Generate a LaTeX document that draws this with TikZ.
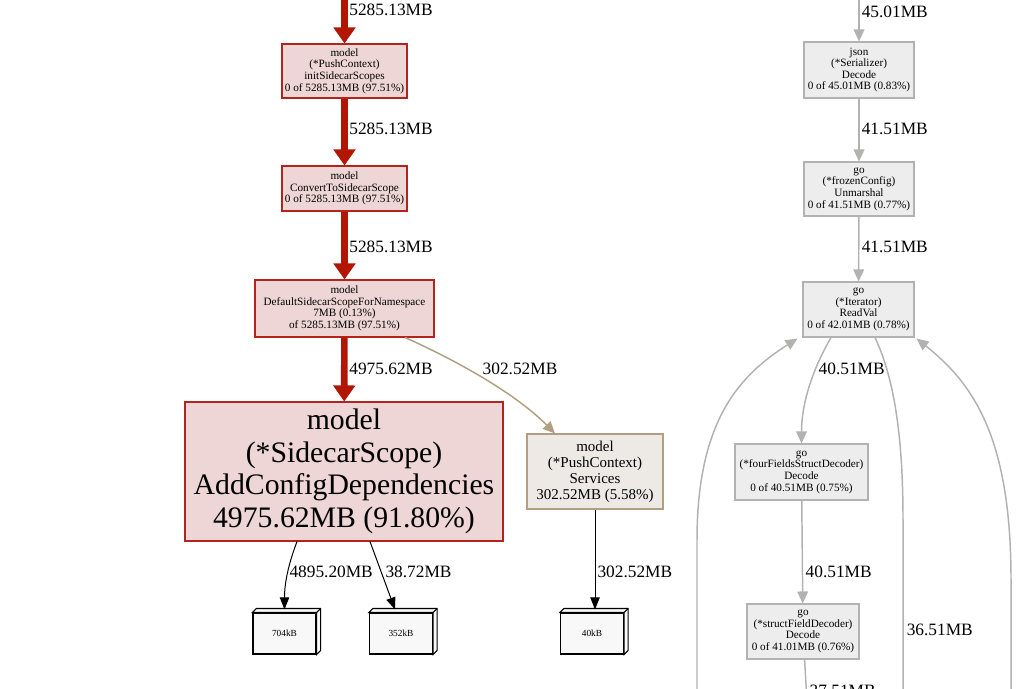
\documentclass[tikz,border=0pt]{standalone}
\usepackage{fontspec}
\setmainfont{Liberation Serif}
\usepackage{xcolor}
\usetikzlibrary{arrows.meta,calc}
\definecolor{hotedge}{RGB}{178,22,0}
\definecolor{hotline}{RGB}{178,36,28}
\definecolor{hotfill}{RGB}{237,214,213}
\definecolor{tanedge}{RGB}{178,160,128}
\definecolor{tanline}{RGB}{178,158,128}
\definecolor{tanfill}{RGB}{237,234,229}
\definecolor{greyedge}{RGB}{178,178,176}
\definecolor{greyline}{RGB}{178,178,178}
\definecolor{greyfill}{RGB}{237,237,237}
\definecolor{leaffill}{RGB}{248,248,248}

\begin{document}
\begin{tikzpicture}[x=0.75pt,y=-0.75pt,
  sz/.style 2 args={minimum width=#1*0.75pt, minimum height=#2*0.75pt},
  fn/.style={draw, line width=0.8pt, align=center, inner sep=1pt, font=\fontsize{8.4}{8.7}\selectfont},
  hotfn/.style={fn, draw=hotline, fill=hotfill},
  tanfn/.style={fn, draw=tanline, fill=tanfill},
  coolfn/.style={fn, draw=greyline, fill=greyfill},
  leaf/.style={draw=black, line width=0.8pt, fill=leaffill, sz={63}{41}, inner sep=0pt, font=\fontsize{7}{8}\selectfont},
  lbl/.style={anchor=west, inner sep=0pt, font=\fontsize{13}{15}\selectfont},
  hot/.style={draw=hotedge, line width=5pt, -{Triangle[length=12pt,width=16pt]}},
  warm/.style={draw=tanedge, line width=1.1pt, -{Triangle[length=9pt,width=8pt]}},
  cool/.style={draw=greyedge, line width=1.1pt, -{Triangle[length=9pt,width=8pt]}},
  leafedge/.style={draw=black, line width=0.75pt, -{Triangle[length=9pt,width=7pt]}},
]
\useasboundingbox[fill=white] (0,0) rectangle (1019,688);

% left chain
\node[hotfn, sz={125}{54}] (init) at (344.5,71) {model\\(*PushContext)\\initSidecarScopes\\0 of 5285.13MB (97.51\%)};
\node[hotfn, sz={125}{45}] (convert) at (344.5,188.5) {model\\ConvertToSidecarScope\\0 of 5285.13MB (97.51\%)};
\node[hotfn, sz={179}{57}] (default) at (344.5,308.5) {model\\DefaultSidecarScopeForNamespace\\7MB (0.13\%)\\of 5285.13MB (97.51\%)};
\node[hotfn, sz={318}{139}, font=\fontsize{22.3}{24.4}\selectfont] (addcfg) at (344,471.5) {model\\(*SidecarScope)\\AddConfigDependencies\\4975.62MB (91.80\%)};
\node[tanfn, sz={136}{75}, font=\fontsize{11.25}{12}\selectfont] (services) at (595,471.5) {model\\(*PushContext)\\Services\\302.52MB (5.58\%)};

% allocation leaves
\node[leaf] (b704) at (284.5,633.5) {704kB};
\node[leaf] (b352) at (401,633.5) {352kB};
\node[leaf] (b40) at (592,633.5) {40kB};
\foreach \n in {b704,b352,b40} {
  \draw[line width=0.8pt, fill=leaffill] (\n.north west) -- ++(4,-4) -- ($(\n.north east)+(4,-4)$) -- ($(\n.south east)+(4,-4)$) -- (\n.south east) -- (\n.north east) -- cycle;
  \draw[line width=0.8pt] (\n.north east) -- ++(4,-4);
}

% right chain
\node[coolfn, sz={110}{56}] (json) at (859,70) {json\\(*Serializer)\\Decode\\0 of 45.01MB (0.83\%)};
\node[coolfn, sz={110}{54}] (frozen) at (859,189) {go\\(*frozenConfig)\\Unmarshal\\0 of 41.51MB (0.77\%)};
\node[coolfn, sz={111}{55}] (iter) at (858.5,309.5) {go\\(*Iterator)\\ReadVal\\0 of 42.01MB (0.78\%)};
\node[coolfn, sz={133}{56}] (four) at (801.5,472) {go\\(*fourFieldsStructDecoder)\\Decode\\0 of 40.51MB (0.75\%)};
\node[coolfn, sz={112}{55}] (field) at (803,631.5) {go\\(*structFieldDecoder)\\Decode\\0 of 41.01MB (0.76\%)};

% free ends off the page
\coordinate (inL) at (344.5,-20);
\coordinate (inR) at (859,-20);
\coordinate (outField) at (808,720);
\coordinate (outIter) at (903,720);
\coordinate (loopL) at (697,720);
\coordinate (loopR) at (1011,720);

% hot path
\draw[hot] (inL) -- (init) node[lbl] at (346,10) {5285.13MB};
\draw[hot] (init) -- (convert) node[lbl] at (346,129) {5285.13MB};
\draw[hot] (convert) -- (default) node[lbl] at (346,247) {5285.13MB};
\draw[hot] (default) -- (addcfg) node[lbl] at (346,369) {4975.62MB};
\draw[warm] ($(default.south)+(60.5,0)$) .. controls (440,353) and (510,388) .. ($(services.north)+(-40,0)$) node[lbl] at (482,369) {302.52MB};
\draw[leafedge] ($(addcfg.south)+(-47,0)$) .. controls (290,560) and (284.5,580) .. ($(b704.north)+(0,-3)$) node[lbl] at (289,572) {4895.20MB};
\draw[leafedge] ($(addcfg.south)+(26,0)$) -- ($(b352.north)+(-6,-3)$) node[lbl] at (385,572) {38.72MB};
\draw[leafedge] (services) -- ($(b40.north)+(3,-3)$) node[lbl] at (597,572) {302.52MB};

% json path
\draw[cool] (inR) -- (json) node[lbl] at (861,12) {45.01MB};
\draw[cool] (json) -- (frozen) node[lbl] at (861,129) {41.51MB};
\draw[cool] (frozen) -- (iter) node[lbl] at (861,247) {41.51MB};
\draw[cool] ($(iter.south)+(-27.5,0)$) .. controls (815,365) and (801.5,400) .. (four.north) node[lbl] at (818,369) {40.51MB};
\draw[cool] (four) -- (field) node[lbl] at (805,572) {40.51MB};
\draw[cool] (field) -- (outField) node[lbl] at (809,691) {37.51MB};
\draw[cool] ($(iter.south)+(16.5,0)$) .. controls (895,380) and (903,440) .. (903,520) -- (outIter) node[lbl] at (906,630) {36.51MB};
\draw[cool] (loopL) -- (697,540) .. controls (697,420) and (740,375) .. ($(iter.south west)+(-5,1)$);
\draw[cool] (loopR) -- (1011,580) .. controls (1011,440) and (975,385) .. ($(iter.south east)+(2,1)$);
\end{tikzpicture}
\end{document}
